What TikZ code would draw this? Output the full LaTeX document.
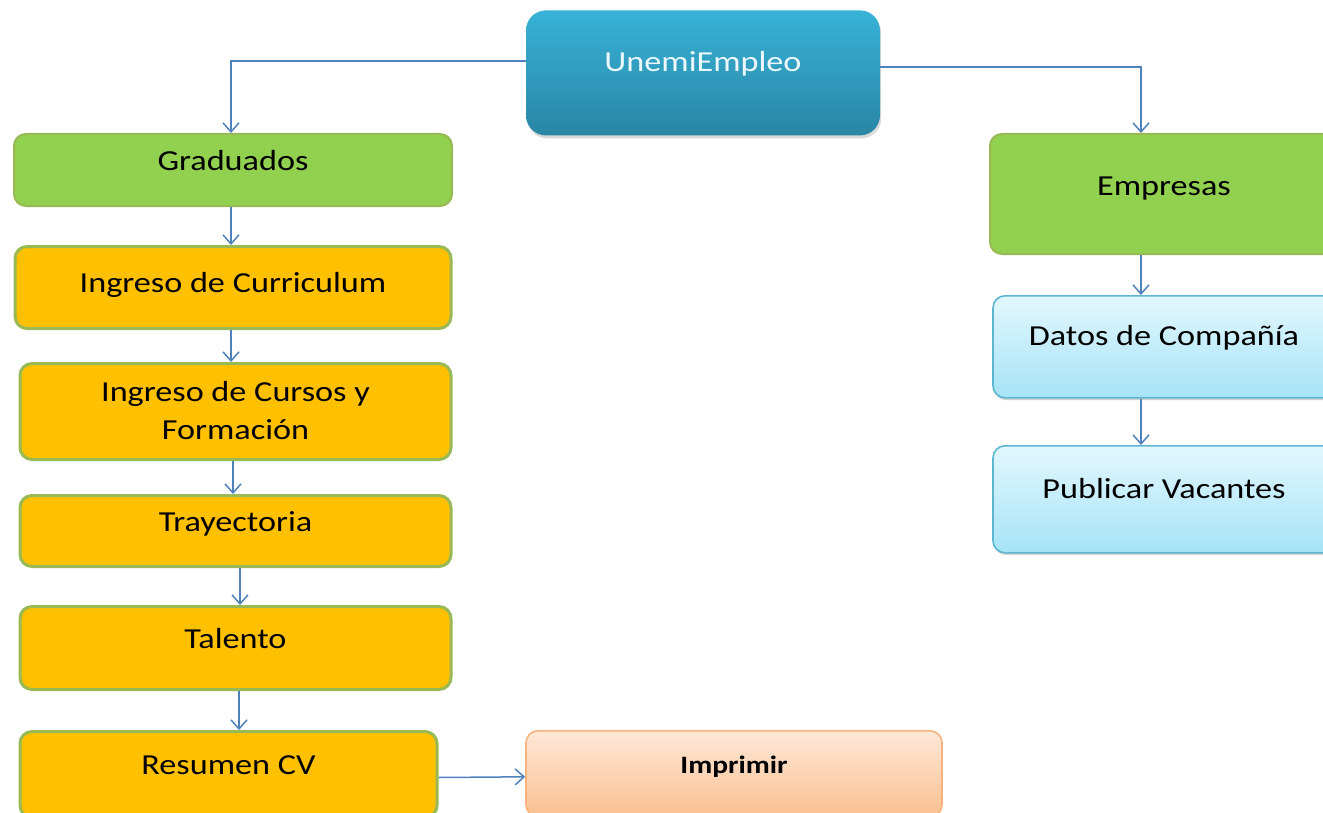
\documentclass[tikz,border=0pt]{standalone}
\usepackage{fontspec}
\setmainfont{Carlito}[FakeStretch=1.18]
\usepackage{xcolor}
\usetikzlibrary{arrows.meta,shadows}
\definecolor{verde}{HTML}{92D050}
\definecolor{verdeborde}{HTML}{98B954}
\definecolor{naranja}{HTML}{FFC000}
\definecolor{flecha}{HTML}{4F81BD}
\definecolor{celeste}{HTML}{E2F7FD}
\definecolor{celesteb}{HTML}{A6E3F7}
\definecolor{celesteborde}{HTML}{5DB6D0}
\definecolor{azul}{HTML}{37B2D7}
\definecolor{azulb}{HTML}{2A86A5}
\definecolor{durazno}{HTML}{FDE8D8}
\definecolor{duraznob}{HTML}{FAC08F}
\definecolor{duraznoborde}{HTML}{F8B27E}

\begin{document}
\begin{tikzpicture}[x=0.5pt, y=-0.5pt,
    caja/.style={anchor=north, inner xsep=0pt, inner ysep=0pt, rounded corners=6pt,
      font=\fontsize{14.5}{19}\selectfont},
    grupo/.style={caja, fill=verde, draw=verdeborde, line width=1pt},
    paso/.style={caja, fill=naranja, draw=verdeborde, line width=1.5pt},
    dato/.style={caja, top color=celeste, bottom color=celesteb, draw=celesteborde, line width=0.8pt,
      drop shadow={shadow xshift=0.6pt, shadow yshift=-1.2pt, opacity=0.35}},
    enlace/.style={draw=flecha, line width=0.75pt, -{Straight Barb[length=4.5pt,width=8pt]}}]
  \useasboundingbox (0,0) rectangle (1323,813);

  \node[caja, rounded corners=10pt, top color=azul, bottom color=azulb, text=white!90!azul,
    minimum width=177pt, text height=30.5pt, text depth=32pt,
    drop shadow={shadow xshift=0.6pt, shadow yshift=-1.5pt, opacity=0.3}] (unemi) at (703,10) {UnemiEmpleo};

  \node[grupo, minimum width=219pt, text height=18pt, text depth=18pt] (grad) at (233,133) {Graduados};
  \node[paso, minimum width=218pt, text height=23pt, text depth=18pt] (curri) at (233,245) {Ingreso de Curriculum};
  \node[paso, minimum width=215.5pt, align=center, text height=38pt, text depth=10pt] (cursos) at (235.5,362)
    {Ingreso de Cursos y\\Formación};
  \node[paso, minimum width=215.5pt, text height=18pt, text depth=17.5pt] (tray) at (235.5,494) {Trayectoria};
  \node[paso, minimum width=215.5pt, text height=21pt, text depth=20.5pt] (talento) at (235.5,605) {Talento};
  \node[paso, minimum width=208.5pt, text height=21.5pt, text depth=21.5pt] (resumen) at (228.5,730) {Resumen CV};
  \node[caja, top color=durazno, bottom color=duraznob, draw=duraznoborde, line width=0.8pt,
    font=\fontsize{12.5}{15}\selectfont\bfseries,
    minimum width=208pt, text height=21.5pt, text depth=21.5pt] (imprimir) at (734,730) {Imprimir};

  \node[grupo, minimum width=174pt, text height=31pt, text depth=29pt] (empresas) at (1164,133) {Empresas};
  \node[dato, minimum width=171pt, text height=25pt, text depth=26pt] (datos) at (1164,295) {Datos de Compañía};
  \node[dato, minimum width=171pt, text height=26.5pt, text depth=27pt] (publicar) at (1164,445) {Publicar Vacantes};

  \draw[enlace] ([yshift=6pt]unemi.west) -| ([xshift=-1pt]grad.north);
  \draw[enlace] ([yshift=3pt]unemi.east) -| ([xshift=-11.5pt]empresas.north);
  \draw[enlace] ([xshift=-1pt]grad.south) -- ([xshift=-1pt]curri.north);
  \draw[enlace] ([xshift=-1pt]curri.south) -- ([xshift=-2.25pt]cursos.north);
  \draw[enlace] ([xshift=-1.25pt]cursos.south) -- ([xshift=-1.25pt]tray.north);
  \draw[enlace] ([xshift=2.25pt]tray.south) -- ([xshift=2.25pt]talento.north);
  \draw[enlace] ([xshift=1.75pt]talento.south) -- ([xshift=5.25pt]resumen.north);
  \draw[enlace] ([yshift=-1.5pt]resumen.east) -- ([yshift=-1.5pt]imprimir.west);
  \draw[enlace] ([xshift=-11.5pt]empresas.south) -- ([xshift=-11.5pt]datos.north);
  \draw[enlace] ([xshift=-11.5pt]datos.south) -- ([xshift=-11.5pt]publicar.north);
\end{tikzpicture}
\end{document}
